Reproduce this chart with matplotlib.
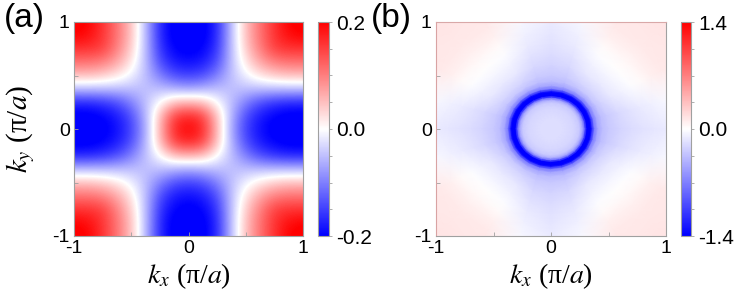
import numpy as np
import matplotlib
matplotlib.use('Agg')
import matplotlib.pyplot as plt
from matplotlib.ticker import MultipleLocator, FormatStrFormatter

plt.rcParams['font.family'] = ['Liberation Sans', 'DejaVu Sans']
plt.rcParams['mathtext.fontset'] = 'stix'
plt.rcParams['axes.unicode_minus'] = False

# ---------------- Panel (a): quadrant grid (rows ky = 0..1, cols kx = 0..1)
k_grid_a = [0.0, 0.125, 0.25, 0.375, 0.5, 0.625, 0.75, 0.875, 1.0]
quad_a = [
    [ 0.20, 0.17, 0.06, -0.07, -0.15, -0.19, -0.21, -0.22, -0.22],
    [ 0.17, 0.15, 0.05, -0.06, -0.14, -0.18, -0.20, -0.21, -0.21],
    [ 0.06, 0.05, 0.00, -0.05, -0.10, -0.14, -0.16, -0.17, -0.17],
    [-0.07, -0.06, -0.05, -0.05, -0.05, -0.05, -0.05, -0.05, -0.05],
    [-0.15, -0.14, -0.10, -0.05, -0.01, 0.02, 0.04, 0.05, 0.05],
    [-0.19, -0.18, -0.14, -0.05, 0.02, 0.07, 0.10, 0.11, 0.11],
    [-0.21, -0.20, -0.16, -0.05, 0.04, 0.10, 0.15, 0.16, 0.16],
    [-0.22, -0.21, -0.17, -0.05, 0.05, 0.11, 0.16, 0.19, 0.20],
    [-0.22, -0.21, -0.17, -0.05, 0.05, 0.11, 0.16, 0.20, 0.21],
]
cbar_a_ticks = [-0.2, 0.0, 0.2]

# ---------------- Panel (b): radial profiles at angles 0..45 deg (8-fold symmetric)
r_b = [0.0, 0.1, 0.2, 0.25, 0.28, 0.30, 0.315, 0.33, 0.345, 0.36, 0.38, 0.41,
       0.45, 0.5, 0.6, 0.7, 0.8, 0.9, 1.0, 1.1, 1.2, 1.3, 1.45]
theta_b = [0, 15, 30, 45]
prof_b = [
    [-0.18, -0.18, -0.22, -0.30, -0.55, -1.05, -1.55, -1.70, -1.55, -1.10, -0.70, -0.48,
     -0.36, -0.30, -0.23, -0.19, -0.16, -0.14, -0.12, -0.12, -0.12, -0.12, -0.12],
    [-0.18, -0.18, -0.22, -0.30, -0.55, -1.05, -1.55, -1.70, -1.55, -1.10, -0.70, -0.48,
     -0.35, -0.29, -0.21, -0.16, -0.12, -0.08, -0.05, -0.03, -0.02, -0.02, -0.02],
    [-0.18, -0.18, -0.22, -0.30, -0.55, -1.05, -1.55, -1.70, -1.55, -1.10, -0.70, -0.46,
     -0.31, -0.23, -0.13, -0.07, -0.02, 0.03, 0.08, 0.11, 0.13, 0.13, 0.13],
    [-0.18, -0.18, -0.22, -0.30, -0.55, -1.05, -1.55, -1.70, -1.55, -1.10, -0.70, -0.45,
     -0.29, -0.21, -0.11, -0.05, 0.00, 0.04, 0.08, 0.11, 0.13, 0.14, 0.15],
]
cbar_b_ticks = [-1.4, 0.0, 1.4]

axis_ticks = [-1, 0, 1]

W, H = 737, 293
fig = plt.figure(figsize=(W / 100, H / 100), dpi=100)

def fx(px):
    return px / W

def fy(py):
    return 1 - py / H

ax_a = fig.add_axes([fx(74), fy(236), fx(303) - fx(74), fy(22) - fy(236)])
cax_a = fig.add_axes([fx(318), fy(236), fx(329) - fx(318), fy(22) - fy(236)])
ax_b = fig.add_axes([fx(436), fy(236), fx(666) - fx(436), fy(22) - fy(236)])
cax_b = fig.add_axes([fx(681), fy(236), fx(691) - fx(681), fy(22) - fy(236)])

# --- panel (a) full grid by mirroring the quadrant
q = np.array(quad_a)
full = np.concatenate([q[:, :0:-1], q], axis=1)
full = np.concatenate([full[:0:-1, :], full], axis=0)
h = k_grid_a[1] - k_grid_a[0]
im_a = ax_a.imshow(full, origin='lower', cmap='bwr', vmin=-0.2, vmax=0.2,
                   extent=[-1 - h / 2, 1 + h / 2, -1 - h / 2, 1 + h / 2],
                   interpolation='bicubic', aspect='auto')

# --- panel (b) polar mesh
ang_full = np.arange(0, 361, 15)
rows = []
for a in ang_full:
    m = a % 90
    if m > 45:
        m = 90 - m
    rows.append(prof_b[theta_b.index(m)])
C = np.array(rows)
R, TH = np.meshgrid(np.array(r_b), np.deg2rad(ang_full))
X = R * np.cos(TH)
Y = R * np.sin(TH)
im_b = ax_b.pcolormesh(X, Y, C, shading='gouraud', cmap='bwr', vmin=-1.4, vmax=1.4)

spine_col = '#a0a0a0'
label_font = ['Liberation Serif', 'DejaVu Serif']
for ax in (ax_a, ax_b):
    ax.set_xlim(-1, 1)
    ax.set_ylim(-1, 1)
    ax.set_xticks(axis_ticks)
    ax.set_yticks(axis_ticks)
    ax.xaxis.set_minor_locator(MultipleLocator(0.5))
    ax.yaxis.set_minor_locator(MultipleLocator(0.5))
    ax.tick_params(which='both', direction='in', length=3, width=0.6,
                   color=spine_col, labelsize=14, pad=3, top=False, right=False)
    for s in ax.spines.values():
        s.set_color(spine_col)
        s.set_linewidth(0.8)
    ax.set_xlabel(r'$k_x$ (π/$a$)', fontsize=20, family=label_font)
    ax.xaxis.set_label_coords(0.5, -0.118)

ax_b.spines['left'].set_color('#d9a3a3')
ax_b.spines['top'].set_color('#d9a8a8')

ax_a.set_ylabel(r'$k_y$ (π/$a$)', fontsize=21, family=label_font)
ax_a.yaxis.set_label_coords(-0.16, 0.5)

for cax, im, ticks, mstep in ((cax_a, im_a, cbar_a_ticks, 0.05), (cax_b, im_b, cbar_b_ticks, 0.35)):
    cb = fig.colorbar(im, cax=cax, ticks=ticks)
    cb.ax.yaxis.set_major_formatter(FormatStrFormatter('%.1f'))
    cb.ax.yaxis.set_minor_locator(MultipleLocator(mstep))
    cb.ax.tick_params(which='both', direction='out', length=2, width=0.6,
                      color=spine_col, labelsize=15, pad=3)
    cb.outline.set_edgecolor(spine_col)
    cb.outline.set_linewidth(0.8)

fig.text(fx(4), fy(3), '(a)', fontsize=24, va='top', ha='left')
fig.text(fx(371), fy(3), '(b)', fontsize=24, va='top', ha='left')

fig.savefig('out.png', dpi=100)
